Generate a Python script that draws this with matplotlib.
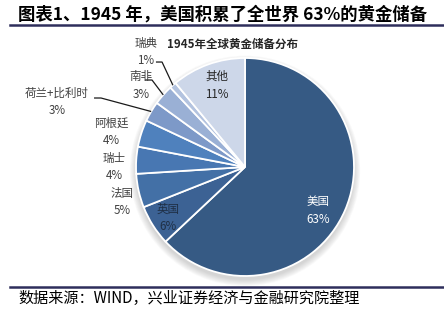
import numpy as np
import matplotlib
matplotlib.use("Agg")
import matplotlib.pyplot as plt
from matplotlib.patches import Circle

plt.rcParams['font.family'] = ['Noto Sans CJK SC', 'DejaVu Sans']

# ---- data ----
countries = ['美国', '英国', '法国', '瑞士', '阿根廷', '荷兰+比利时', '南非', '瑞典', '其他']
shares = [63, 6, 5, 4, 4, 3, 3, 1, 11]
title = '图表1、1945 年，美国积累了全世界 63%的黄金储备'
chart_title = '1945年全球黄金储备分布'
source = '数据来源：WIND，兴业证券经济与金融研究院整理'

# ---- styling ----
colors = ['#365A84', '#3C6294', '#4370A6', '#4877B2', '#4F81BD',
          '#7D99C8', '#9AB0D5', '#B3C3DF', '#CDD7E9']
label_pos = [(0.67, -0.40), (-0.706, -0.47), (-1.128, -0.32), (-1.202, 0.0),
             (-1.229, 0.32), (-1.725, 0.60), (-0.954, 0.75), (-0.908, 1.055),
             (-0.257, 0.75)]
label_colors = ['white', '#1F2F45', '#404040', '#404040', '#404040',
                '#404040', '#404040', '#404040', '#262626']
# leader lines: index -> horizontal segment start/end in data units
leaders = {5: ((-1.385, 0.633), (-1.321, 0.633)),
           6: ((-0.917, 0.798), (-0.853, 0.798)),
           7: ((-0.817, 0.963), (-0.761, 0.963))}

W, H = 444, 326
R = 109.0
cx, cy = 245.0, 167.0

fig = plt.figure(figsize=(W / 100, H / 100), dpi=100)
ax = fig.add_axes([0, 0, 1, 1])
ax.set_xlim(-cx / R, (W - cx) / R)
ax.set_ylim(-(H - cy) / R, cy / R)
ax.axis('off')

# soft shadow
for i in range(8):
    ax.add_patch(Circle((0, -0.035), 1.0 + 0.008 * i, color='#7F7F7F',
                        alpha=0.045, lw=0, zorder=0))

wedges, _ = ax.pie(shares, colors=colors, startangle=90, counterclock=False,
                   radius=1.0, center=(0, 0),
                   wedgeprops=dict(edgecolor='white', linewidth=1.3))
for w in wedges:
    w.set_zorder(2)
ax.set_xlim(-cx / R, (W - cx) / R)
ax.set_ylim(-(H - cy) / R, cy / R)

total = float(sum(shares))
cum = np.cumsum([0] + shares)
for i, (name, val) in enumerate(zip(countries, shares)):
    x, y = label_pos[i]
    ax.text(x, y, f'{name}\n{val}%', ha='center', va='center', fontsize=8.3,
            color=label_colors[i], linespacing=1.45, zorder=5)
    if i in leaders:
        mid = np.deg2rad(90 - 360 * (cum[i] + val / 2) / total)
        ex, ey = np.cos(mid), np.sin(mid)
        (x0, y0), (x1, y1) = leaders[i]
        ax.plot([x0, x1, ex], [y0, y1, ey], color='#1A1A1A', lw=0.9,
                zorder=4, solid_capstyle='butt')

# titles and frame lines
fig.text(18 / W, 1 - 15 / H, title, ha='left', va='center', fontsize=12.5,
         fontweight='bold', color='black')
fig.text(167 / W, 1 - 44 / H, chart_title, ha='left', va='center',
         fontsize=8.3, fontweight='bold', color='#262626')
fig.text(18 / W, 1 - 298 / H, source, ha='left', va='center', fontsize=10.9,
         color='black')
for yy in (24.5, 287):
    fig.add_artist(plt.Line2D([10 / W, 1.0], [1 - yy / H, 1 - yy / H],
                              color='#2E2E5C', lw=1.8))

fig.savefig('out.png', dpi=100)
